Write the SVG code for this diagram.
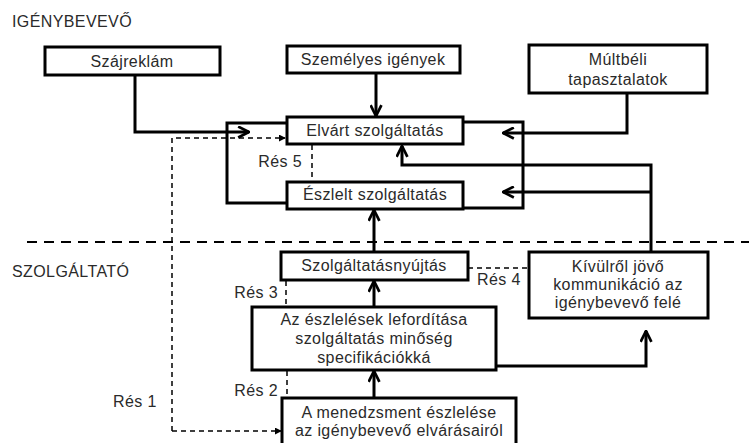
<svg xmlns="http://www.w3.org/2000/svg" width="749" height="443" viewBox="0 0 749 443">
<defs>
<style>
.box{fill:#fff;stroke:#000;stroke-width:3}
.t{font-family:"Liberation Sans",Arial,sans-serif;font-size:16px;letter-spacing:0.4px;fill:#2a2a2a;text-anchor:middle}
.l{font-family:"Liberation Sans",Arial,sans-serif;font-size:16px;letter-spacing:0.4px;fill:#2a2a2a}
.ln{fill:none;stroke:#000;stroke-width:3}
.ds{fill:none;stroke:#000;stroke-width:1.5;stroke-dasharray:5,4}
.div{fill:none;stroke:#000;stroke-width:2;stroke-dasharray:10,7}
</style>
<marker id="ah" viewBox="0 0 12 12" refX="11" refY="6" markerWidth="13" markerHeight="13" markerUnits="userSpaceOnUse" orient="auto">
<polyline points="1,1 11,6 1,11" fill="none" stroke="#000" stroke-width="2.5"/>
</marker>
<marker id="ahs" viewBox="0 0 8 8" refX="7" refY="4" markerWidth="7" markerHeight="7" markerUnits="userSpaceOnUse" orient="auto">
<polygon points="0,0 8,4 0,8" fill="#000"/>
</marker>
</defs>
<rect width="749" height="443" fill="#fff"/>
<text class="l" x="12" y="27">IGÉNYBEVEVŐ</text>
<text class="l" x="12" y="277">SZOLGÁLTATÓ</text>
<g id="connectors">
<line class="div" x1="27" y1="242" x2="749" y2="242"/>
<polyline class="ln" points="135,75 135,132 249,132" marker-end="url(#ah)"/>
<line class="ln" x1="376" y1="73" x2="376" y2="116" marker-end="url(#ah)"/>
<polyline class="ln" points="287,123 227,123 227,203 287,203"/>
<polyline class="ln" points="463,122 523,122 523,208 463,208"/>
<polyline class="ln" points="627,93 627,133 503,133" marker-end="url(#ah)"/>
<polyline class="ln" points="651,252 651,165 402,165 402,146" marker-end="url(#ah)"/>
<line class="ln" x1="651" y1="192" x2="503" y2="192" marker-end="url(#ah)"/>
<line class="ln" x1="374" y1="252" x2="374" y2="210" marker-end="url(#ah)"/>
<line class="ln" x1="374" y1="307" x2="374" y2="281" marker-end="url(#ah)"/>
<line class="ln" x1="374" y1="398" x2="374" y2="371" marker-end="url(#ah)"/>
<polyline class="ln" points="496,366 646,366 646,331" marker-end="url(#ah)"/>
<polyline class="ds" points="172,431 172,138 285,138" marker-end="url(#ahs)"/>
<line class="ds" x1="172" y1="431" x2="281" y2="431" marker-end="url(#ahs)"/>
<line class="ds" x1="312" y1="145" x2="312" y2="182"/>
<line class="ds" x1="286" y1="281" x2="286" y2="307"/>
<line class="ds" x1="287" y1="371" x2="287" y2="398"/>
<line class="ds" x1="468" y1="268" x2="529" y2="268"/>
</g>
<g id="szajreklam"><rect class="box" x="45" y="47" width="175" height="28"/><text class="t" x="132" y="67">Szájreklám</text></g>
<g id="szemelyes"><rect class="box" x="287" y="46" width="173" height="27"/><text class="t" x="373" y="65">Személyes igények</text></g>
<g id="multbeli"><rect class="box" x="529" y="45" width="178" height="48"/><text class="t" x="618" y="65">Múltbéli</text><text class="t" x="618" y="85">tapasztalatok</text></g>
<g id="elvart"><rect class="box" x="287" y="117" width="176" height="27"/><text class="t" x="375" y="136">Elvárt szolgáltatás</text></g>
<g id="eszlelt"><rect class="box" x="287" y="182" width="176" height="27"/><text class="t" x="375" y="200">Észlelt szolgáltatás</text></g>
<g id="szolgaltatasnyujtas"><rect class="box" x="281" y="252" width="187" height="28"/><text class="t" x="374" y="271">Szolgáltatásnyújtás</text></g>
<g id="kivulrol"><rect class="box" x="529" y="252" width="179" height="66"/><text class="t" x="618" y="272">Kívülről jövő</text><text class="t" x="618" y="290">kommunikáció az</text><text class="t" x="618" y="308">igénybevevő felé</text></g>
<g id="leforditas"><rect class="box" x="252" y="307" width="244" height="63"/><text class="t" x="374" y="325">Az észlelések lefordítása</text><text class="t" x="374" y="344">szolgáltatás minőség</text><text class="t" x="374" y="363">specifikációkká</text></g>
<g id="menedzsment"><rect class="box" x="282" y="398" width="234" height="55"/><text class="t" x="399" y="418">A menedzsment észlelése</text><text class="t" x="399" y="436">az igénybevevő elvárásairól</text></g>
<g id="labels">
<text class="l" x="302" y="167" text-anchor="end">Rés 5</text>
<text class="l" x="278" y="298" text-anchor="end">Rés 3</text>
<text class="l" x="278" y="396" text-anchor="end">Rés 2</text>
<text class="l" x="113" y="407">Rés 1</text>
<text class="l" x="477" y="285">Rés 4</text>
</g>
</svg>
